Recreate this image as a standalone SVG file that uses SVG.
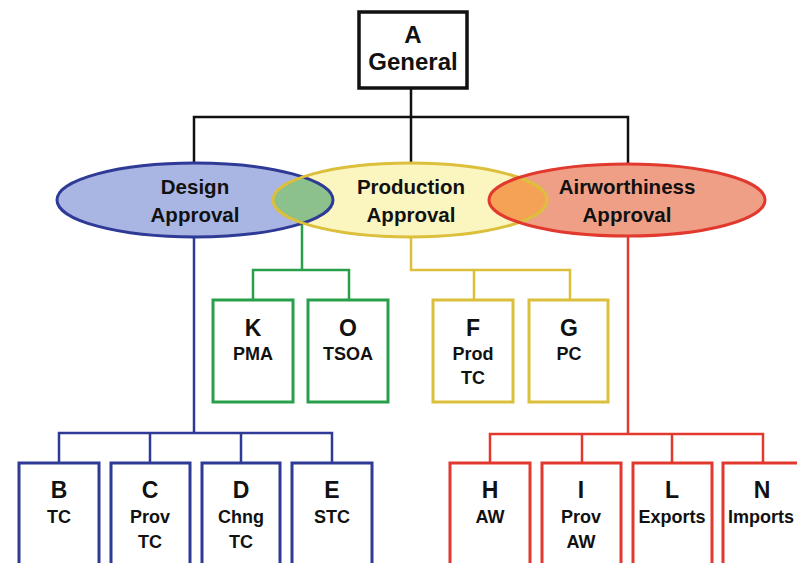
<svg xmlns="http://www.w3.org/2000/svg" width="797" height="563" viewBox="0 0 797 563">
<style>
text{font-family:"Liberation Sans",Arial,sans-serif;font-weight:bold;fill:#111;text-anchor:middle}
.top{font-size:24px}
.big{font-size:23px}
.ell{font-size:20.5px}
.sm{font-size:18px}
.box{fill:#fff;stroke-width:3}
.blue{stroke:#2e3a96}
.yel{stroke:#dcbf3a}
.red{stroke:#e2392e}
.grn{stroke:#28a04a}
.ln{fill:none;stroke-width:2.5}
</style>
<defs>
<clipPath id="cBlue"><ellipse cx="195" cy="200" rx="138" ry="37"/></clipPath>
<clipPath id="cRed"><ellipse cx="627" cy="200" rx="138" ry="36"/></clipPath>
</defs>
<g id="connectors">
<path class="ln" stroke="#111" d="M411 88V164M194 164V117H628V164"/>
<path class="ln blue" d="M194 237V433M59 463V433H332V463M150 433V463M241 433V463"/>
<path class="ln grn" d="M302 204V270M253 300V270H349V300"/>
<path class="ln yel" d="M411 237V270H570V300M474 270V300"/>
<path class="ln red" d="M628 236V434M490 463V434H763V463M582 434V463M672 434V463"/>
</g>
<g id="A">
<rect x="359" y="12" width="108" height="76" fill="#fff" stroke="#111" stroke-width="3.5"/>
<text class="top" x="413" y="43">A</text>
<text class="top" x="413" y="70">General</text>
</g>
<g id="ellipses-fill">
<ellipse cx="195" cy="200" rx="138" ry="37" fill="#a9b5e2"/>
<ellipse cx="410" cy="200" rx="137" ry="37" fill="#fbf5c0"/>
<ellipse cx="627" cy="200" rx="138" ry="36" fill="#ef9f86"/>
<ellipse cx="410" cy="200" rx="137" ry="37" fill="#8cc08c" clip-path="url(#cBlue)"/>
<ellipse cx="410" cy="200" rx="137" ry="37" fill="#f5a256" clip-path="url(#cRed)"/>
</g>
<g id="design">
<ellipse cx="195" cy="200" rx="138" ry="37" fill="none" stroke="#2e3a96" stroke-width="3"/>
<text class="ell" x="195" y="194">Design</text>
<text class="ell" x="195" y="222">Approval</text>
</g>
<g id="production">
<ellipse cx="410" cy="200" rx="137" ry="37" fill="none" stroke="#dcbf3a" stroke-width="3"/>
<text class="ell" x="411" y="194">Production</text>
<text class="ell" x="411" y="222">Approval</text>
</g>
<g id="airworthiness">
<ellipse cx="627" cy="200" rx="138" ry="36" fill="none" stroke="#e2392e" stroke-width="3"/>
<text class="ell" x="627" y="194">Airworthiness</text>
<text class="ell" x="627" y="222">Approval</text>
</g>
<g id="K"><rect class="box grn" x="213" y="300" width="80" height="102"/><text class="big" x="253" y="336">K</text><text class="sm" x="253" y="360">PMA</text></g>
<g id="O"><rect class="box grn" x="308" y="300" width="80" height="102"/><text class="big" x="348" y="336">O</text><text class="sm" x="348" y="360">TSOA</text></g>
<g id="F"><rect class="box yel" x="433" y="300" width="80" height="102"/><text class="big" x="473" y="336">F</text><text class="sm" x="473" y="360">Prod</text><text class="sm" x="473" y="384">TC</text></g>
<g id="G"><rect class="box yel" x="529" y="300" width="79" height="102"/><text class="big" x="569" y="336">G</text><text class="sm" x="569" y="360">PC</text></g>
<g id="B"><rect class="box blue" x="19" y="463" width="80" height="110"/><text class="big" x="59" y="498">B</text><text class="sm" x="59" y="523">TC</text></g>
<g id="C"><rect class="box blue" x="111" y="463" width="79" height="110"/><text class="big" x="150" y="498">C</text><text class="sm" x="150" y="523">Prov</text><text class="sm" x="150" y="548">TC</text></g>
<g id="D"><rect class="box blue" x="202" y="463" width="78" height="110"/><text class="big" x="241" y="498">D</text><text class="sm" x="241" y="523">Chng</text><text class="sm" x="241" y="548">TC</text></g>
<g id="E"><rect class="box blue" x="292" y="463" width="80" height="110"/><text class="big" x="332" y="498">E</text><text class="sm" x="332" y="523">STC</text></g>
<g id="H"><rect class="box red" x="450" y="463" width="80" height="110"/><text class="big" x="490" y="498">H</text><text class="sm" x="490" y="523">AW</text></g>
<g id="I"><rect class="box red" x="542" y="463" width="79" height="110"/><text class="big" x="581" y="498">I</text><text class="sm" x="581" y="523">Prov</text><text class="sm" x="581" y="548">AW</text></g>
<g id="L"><rect class="box red" x="633" y="463" width="79" height="110"/><text class="big" x="672" y="498">L</text><text class="sm" x="672" y="523">Exports</text></g>
<g id="N"><rect class="box red" x="723" y="463" width="80" height="110"/><text class="big" x="762" y="498">N</text><text class="sm" x="761" y="523">Imports</text></g>
</svg>
